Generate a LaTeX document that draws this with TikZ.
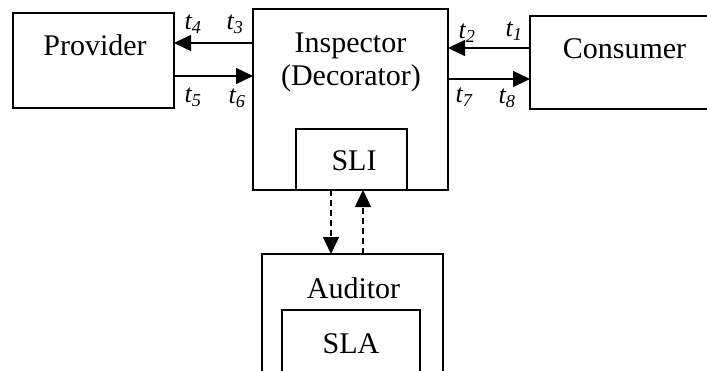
\documentclass[tikz,border=0pt]{standalone}
\usepackage{fontspec}
\setmainfont{Liberation Serif}
\usetikzlibrary{arrows.meta}
\begin{document}
\begin{tikzpicture}[x=1pt,y=-1pt,
  box/.style={draw,line width=1.4pt,rectangle,inner sep=0pt,outer sep=0pt},
  boxtext/.style={anchor=base,inner sep=0pt,font=\fontsize{30}{34}\selectfont},
  tl/.style={inner sep=0pt,font=\fontsize{26}{30}\selectfont\itshape},
  arr/.style={line width=1.4pt,-{Triangle[length=17pt,width=16pt]}},
  darr/.style={arr,dash pattern=on 6pt off 4pt}]
\clip (0,0) rectangle (707,370);

% boxes
\node[box,minimum width=161pt,minimum height=95pt] (prov) at (93.5,60.5) {};
\node[box,minimum width=195pt,minimum height=181pt] (insp) at (350.5,99.5) {};
\node[box,minimum width=111pt,minimum height=61pt] (sli) at (351.5,159.5) {};
\node[box,minimum width=230pt,minimum height=93pt] (cons) at (645,62.5) {};
\node[box,minimum width=181pt,minimum height=166pt] (aud) at (352.5,337) {};
\node[box,minimum width=138pt,minimum height=110pt] (sla) at (351,365) {};

% box texts
\node[boxtext] (tprov) at (95,55) {Provider};
\node[boxtext] (tinsp) at (350.5,52) {Inspector};
\node[boxtext] (tdec) at (351,85) {(Decorator)};
\node[boxtext] (tsli) at (354,170) {SLI};
\node[boxtext] (tcons) at (624.5,58) {Consumer};
\node[boxtext] (taud) at (353.5,298) {Auditor};
\node[boxtext] (tsla) at (351,353) {SLA};

% message rows
\coordinate (r1) at (0,43);
\coordinate (r2) at (0,76);
\coordinate (r3) at (0,48);
\coordinate (r4) at (0,79);
\coordinate (c1) at (331,0);
\coordinate (c2) at (363,0);

\draw[arr] (insp.west |- r1) -- (prov.east |- r1);
\draw[arr] (prov.east |- r2) -- (insp.west |- r2);
\draw[arr] (cons.west |- r3) -- (insp.east |- r3);
\draw[arr] (insp.east |- r4) -- (cons.west |- r4);
\draw[darr] (sli.south -| c1) -- (aud.north -| c1);
\draw[darr] (aud.north -| c2) -- (sli.south -| c2);

% time stamps
\node[tl] (t4) at (193,24) {t\textsubscript{4}};
\node[tl] (t3) at (235,24) {t\textsubscript{3}};
\node[tl] (t5) at (193,97) {t\textsubscript{5}};
\node[tl] (t6) at (237,98) {t\textsubscript{6}};
\node[tl] (t2) at (467,33) {t\textsubscript{2}};
\node[tl] (t1) at (514,31) {t\textsubscript{1}};
\node[tl] (t7) at (464,97) {t\textsubscript{7}};
\node[tl] (t8) at (507,98) {t\textsubscript{8}};
\end{tikzpicture}
\end{document}
